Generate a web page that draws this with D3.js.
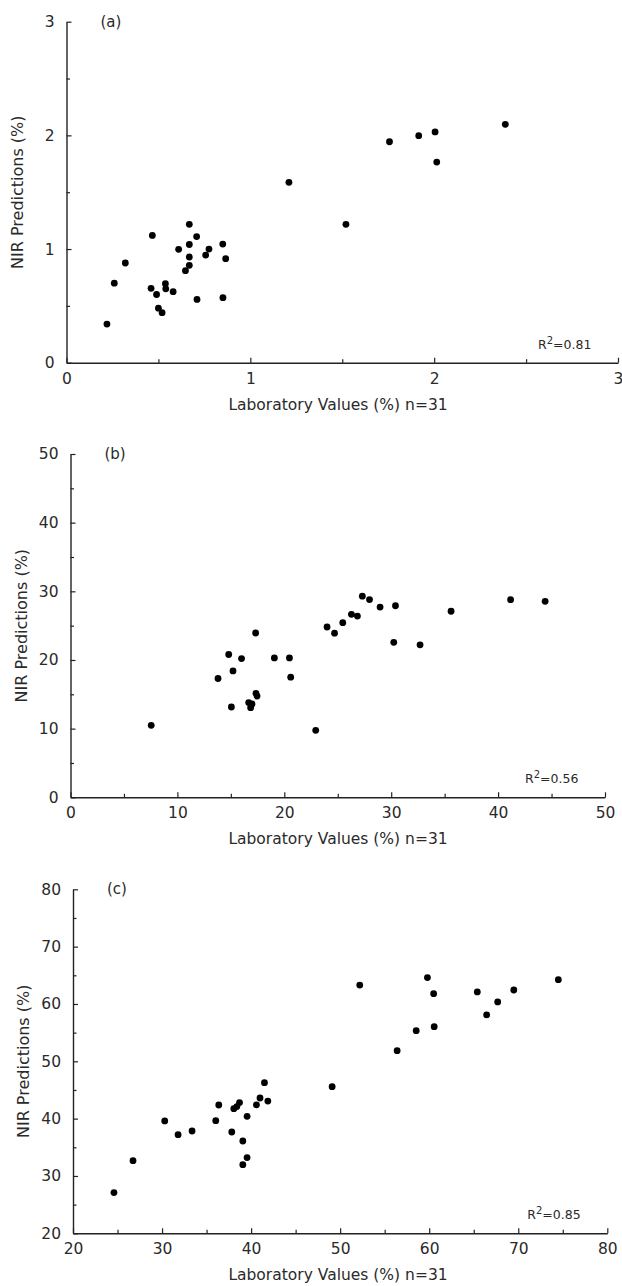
<!DOCTYPE html>
<html>
<head>
<meta charset="utf-8">
<script src="https://cdn.jsdelivr.net/npm/d3@7"></script>
<style>
  html, body { margin: 0; padding: 0; background: #fff; }
  svg { display: block; }
  text { font-family: "DejaVu Sans", sans-serif; fill: #2a2a2a; }
</style>
</head>
<body>
<svg id="chart" width="622" height="1286"></svg>
<script>
// ---- Data ----
const aLab = [0.22,0.26,0.32,0.467,0.46,0.49,0.50,0.52,0.538,0.54,0.58,0.61,0.647,0.668,0.668,0.668,0.668,0.708,0.71,0.757,0.775,0.85,0.851,0.866,1.21,1.52,1.757,1.916,2.005,2.014,2.387];
const aNir = [0.34,0.70,0.877,1.12,0.654,0.60,0.48,0.44,0.695,0.65,0.625,0.997,0.81,0.857,0.93,1.04,1.217,1.11,0.557,0.947,1.0,1.044,0.572,0.915,1.587,1.217,1.944,1.997,2.03,1.765,2.097];

const bLab = [7.55,13.8,14.8,15.2,15.05,16.0,16.67,16.98,16.85,17.35,17.45,19.07,20.48,20.6,22.94,17.32,24.0,24.7,25.47,26.28,26.84,27.3,27.97,28.96,30.4,30.24,32.7,35.6,41.17,44.4];
const bNir = [10.49,17.3,20.8,18.4,13.15,20.2,13.8,13.6,13.05,15.15,14.75,20.3,20.3,17.5,9.76,23.93,24.8,23.9,25.43,26.65,26.4,29.3,28.8,27.7,27.9,22.57,22.2,27.1,28.78,28.54];

const cLab = [24.6,26.74,30.3,31.8,33.37,36.03,36.37,37.83,38.06,38.4,38.7,39.07,39.55,39.07,39.55,40.6,41.0,41.5,41.88,49.1,52.2,56.4,58.54,59.8,60.5,60.56,65.4,66.45,67.69,69.5,74.5];
const cNir = [27.1,32.66,39.6,37.2,37.84,39.64,42.38,37.67,41.74,42.1,42.8,36.1,40.4,31.97,33.2,42.4,43.6,46.27,43.07,45.57,63.3,51.85,55.34,64.6,61.8,56.04,62.1,58.08,60.35,62.44,64.24];

const aTicks = [0,1,2,3];
const aMinor = [0.5,1.5,2.5];
const bTicks = [0,10,20,30,40,50];
const bMinor = [5,15,25,35,45];
const cTicks = [20,30,40,50,60,70,80];
const cMinor = [25,35,45,55,65,75];

const panelLabels = ["(a)","(b)","(c)"];
const r2Values = ["0.81","0.56","0.85"];
const xTitle = "Laboratory Values (%) n=31";
const yTitle = "NIR Predictions (%)";

// ---- Layout ----
const panels = [
  { lab: aLab, nir: aNir, ticks: aTicks, minor: aMinor, x0: 66.5, x1: 618, y0: 362.7, y1: 21.7 },
  { lab: bLab, nir: bNir, ticks: bTicks, minor: bMinor, x0: 70.5, x1: 605, y0: 797.3, y1: 454 },
  { lab: cLab, nir: cNir, ticks: cTicks, minor: cMinor, x0: 73, x1: 607.3, y0: 1233.3, y1: 889.3 }
];

const svg = d3.select("#chart");

panels.forEach((p, i) => {
  const dom = [p.ticks[0], p.ticks[p.ticks.length - 1]];
  const x = d3.scaleLinear().domain(dom).range([p.x0, p.x1]);
  const y = d3.scaleLinear().domain(dom).range([p.y0, p.y1]);
  const g = svg.append("g");

  // minor ticks
  g.append("g").attr("transform", `translate(0,${p.y0})`)
    .call(d3.axisBottom(x).tickValues(p.minor).tickSize(-3.5).tickFormat(""))
    .call(s => s.select(".domain").remove());
  g.append("g").attr("transform", `translate(${p.x0},0)`)
    .call(d3.axisLeft(y).tickValues(p.minor).tickSize(-3.5).tickFormat(""))
    .call(s => s.select(".domain").remove());

  // major axes
  const xa = g.append("g").attr("transform", `translate(0,${p.y0})`)
    .call(d3.axisBottom(x).tickValues(p.ticks).tickSizeInner(-5).tickSizeOuter(0).tickPadding(10).tickFormat(d3.format("d")));
  const ya = g.append("g").attr("transform", `translate(${p.x0},0)`)
    .call(d3.axisLeft(y).tickValues(p.ticks).tickSizeInner(-5).tickSizeOuter(0).tickPadding(12).tickFormat(d3.format("d")));

  [xa, ya].forEach(a => {
    a.attr("font-size", null).attr("font-family", null);
    a.selectAll("text").style("font-size", "15.5px");
    a.selectAll("line").attr("stroke", "#222").attr("stroke-width", 1.2);
    a.select(".domain").attr("stroke", "#222").attr("stroke-width", 1.4);
  });
  g.selectAll("line").attr("stroke", "#222").attr("stroke-width", 1.2);

  // points
  g.append("g").selectAll("circle")
    .data(p.lab.map((v, k) => [v, p.nir[k]]))
    .join("circle")
    .attr("cx", d => x(d[0]))
    .attr("cy", d => y(d[1]))
    .attr("r", 3.4)
    .attr("fill", "#000");

  // panel label
  g.append("text")
    .attr("x", p.x0 + 34).attr("y", p.y1 + 5)
    .style("font-size", "15px")
    .text(panelLabels[i]);

  // R^2
  const r2 = g.append("text")
    .attr("x", p.x1 - 80).attr("y", p.y0 - 14)
    .style("font-size", "12.5px");
  r2.append("tspan").text("R");
  r2.append("tspan").attr("dy", -5).style("font-size", "10px").text("2");
  r2.append("tspan").attr("dy", 5).text("=" + r2Values[i]);

  // axis titles
  g.append("text")
    .attr("x", 338).attr("y", p.y0 + 47)
    .attr("text-anchor", "middle")
    .style("font-size", "15.5px")
    .text(xTitle);

  g.append("text")
    .attr("transform", `translate(${p.x0 - 44},${(p.y0 + p.y1) / 2}) rotate(-90)`)
    .attr("text-anchor", "middle")
    .style("font-size", "16px")
    .text(yTitle);
});
</script>
</body>
</html>
